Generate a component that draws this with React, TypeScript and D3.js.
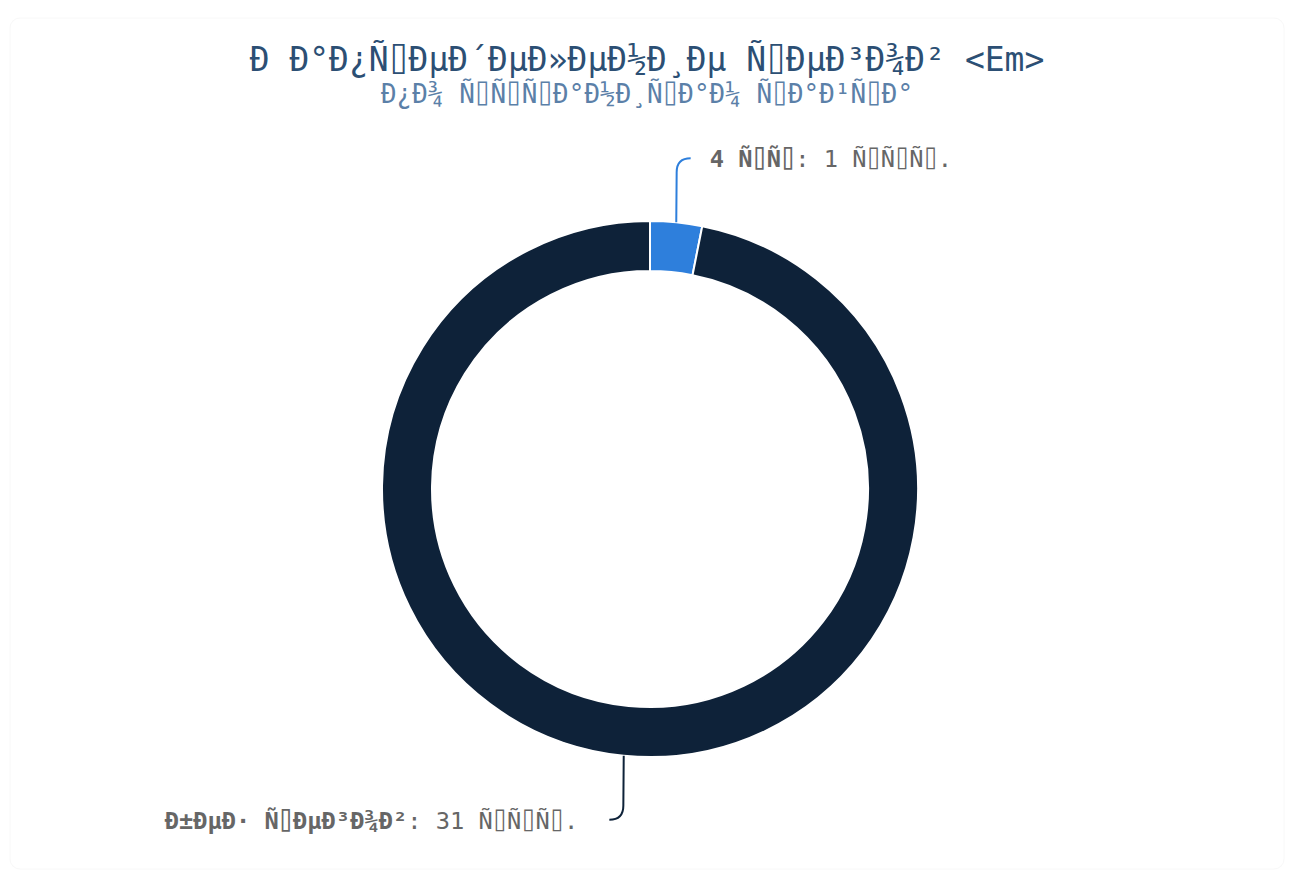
import React, { useEffect, useRef } from "react";
import * as d3 from "d3";

// Text in the reference is UTF-8 Russian shown as Latin-1 (mojibake); reproduce it.
// Unprintable C1 control bytes are shown as a box glyph, as in the reference.
const mojibake = (s: string) =>
  Array.from(new TextEncoder().encode(s))
    .map((b) => (b >= 0x80 && b <= 0x9f ? "\u2337" : String.fromCharCode(b)))
    .join("");

const TITLE = mojibake("Рапределение тегов") + " <Em>";
const SUBTITLE = mojibake("по страницам сайта");

const categories = ["4 шт", "без тегов"];
const values = [1, 31];
const unitLabel = "стр.";
const colors = ["#2e7fdc", "#0e2239"];

const W = 1294;
const H = 873;

export default function App() {
  const ref = useRef<SVGSVGElement>(null);

  useEffect(() => {
    const svg = d3.select(ref.current!);
    svg.selectAll("*").remove();

    svg
      .append("rect")
      .attr("x", 10)
      .attr("y", 18)
      .attr("width", W - 20)
      .attr("height", H - 22)
      .attr("rx", 10)
      .attr("fill", "#fff")
      .attr("stroke", "#f8f8f8");

    const font = "'DejaVu Sans Mono', monospace";

    svg
      .append("text")
      .attr("x", W / 2)
      .attr("y", 71)
      .attr("text-anchor", "middle")
      .attr("font-family", font)
      .attr("font-size", 33)
      .attr("fill", "#2c4f74")
      .text(TITLE);

    svg
      .append("text")
      .attr("x", W / 2)
      .attr("y", 103)
      .attr("text-anchor", "middle")
      .attr("font-family", font)
      .attr("font-size", 26)
      .attr("fill", "#5b80a8")
      .text(SUBTITLE);

    const cx = 650;
    const cy = 489;
    const rOuter = 268;
    const rInner = 218;

    const pie = d3
      .pie<number>()
      .sort(null)
      .value((d) => d);
    const arcs = pie(values);
    const arc = d3.arc<d3.PieArcDatum<number>>().innerRadius(rInner).outerRadius(rOuter);

    const g = svg.append("g").attr("transform", `translate(${cx},${cy})`);
    g.selectAll("path.slice")
      .data(arcs)
      .join("path")
      .attr("class", "slice")
      .attr("d", arc)
      .attr("fill", (_, i) => colors[i])
      .attr("stroke", "#fff")
      .attr("stroke-width", 2)
      .attr("stroke-linejoin", "round");

    // label lines and labels
    arcs.forEach((a, i) => {
      const mid = (a.startAngle + a.endAngle) / 2;
      const sx = Math.sin(mid) * rOuter;
      const sy = -Math.cos(mid) * rOuter;
      const len1 = 56;
      const len2 = 16;
      const right = Math.sin(mid) >= 0;
      const up = -Math.cos(mid) < 0;
      const mx = sx + Math.sin(mid) * 4;
      const my = sy + (up ? -len1 : len1);
      const ex = mx + (right ? len2 - 2 : -(len2 - 2));
      const ey = my + (up ? -8 : 8);
      const path = d3.path();
      path.moveTo(cx + sx, cy + sy);
      path.lineTo(cx + mx, cy + my + (up ? 6 : -6));
      path.quadraticCurveTo(cx + mx, cy + ey, cx + ex, cy + ey);
      svg
        .append("path")
        .attr("d", path.toString())
        .attr("fill", "none")
        .attr("stroke", colors[i])
        .attr("stroke-width", 2);

      const t = svg
        .append("text")
        .attr("x", cx + ex + (right ? 19 : -31))
        .attr("y", cy + ey + 9)
        .attr("text-anchor", right ? "start" : "end")
        .attr("font-family", font)
        .attr("font-size", 23.7)
        .attr("fill", "#666");
      t.append("tspan").attr("font-weight", "bold").text(mojibake(categories[i]));
      t.append("tspan").text(": " + values[i] + " " + mojibake(unitLabel));
    });
  }, []);

  return (
    <svg
      ref={ref}
      width={W}
      height={H}
      style={{ position: "absolute", left: 0, top: 0, display: "block" }}
    />
  );
}
